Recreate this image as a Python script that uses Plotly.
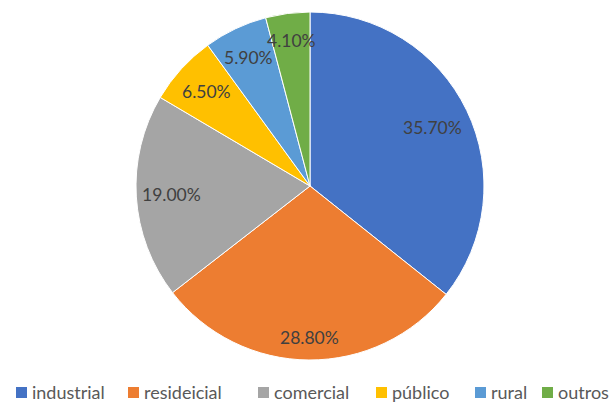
import math
import plotly.graph_objects as go

categories = ["industrial", "resideicial", "comercial", "público", "rural", "outros"]
values = [35.7, 28.8, 19.0, 6.5, 5.9, 4.1]
colors = ["#4472C4", "#ED7D31", "#A5A5A5", "#FFC000", "#5B9BD5", "#70AD47"]

# layout / style settings
W, H = 615, 405
CX, CY, R = 310, 186, 174            # pie centre / radius in px
label_radius = [0.78, 0.868, 0.797, 0.807, 0.818, 0.845]   # label distance (fraction of radius)
legend_text_x = [32, 144, 274, 392, 491, 558]               # legend entry text left (px)
LEGEND_Y = 392
FONT = "Lato, 'Open Sans', sans-serif"

fig = go.Figure(go.Pie(
    labels=categories,
    values=values,
    sort=False,
    direction="clockwise",
    rotation=0,
    marker=dict(colors=colors, line=dict(color="white", width=1)),
    textinfo="none",
    domain=dict(x=[(CX - R) / W, (CX + R) / W], y=[1 - (CY + R) / H, 1 - (CY - R) / H]),
    hoverinfo="label+percent",
    showlegend=False,
))

# data labels placed at each slice's mid-angle
total = sum(values)
cum = 0.0
annotations = []
for v, f in zip(values, label_radius):
    mid = (cum + v / 2) / total * 2 * math.pi
    cum += v
    px = CX + R * f * math.sin(mid)
    py = CY - R * f * math.cos(mid)
    annotations.append(dict(
        x=px / W, y=1 - py / H, xref="paper", yref="paper",
        text=f"{v:.2f}%", showarrow=False, xanchor="center", yanchor="middle",
        font=dict(family=FONT, size=17.5, color="#404040"),
    ))

# legend drawn as text + square markers
shapes = []
for cat, col, tx in zip(categories, colors, legend_text_x):
    annotations.append(dict(
        x=tx / W, y=1 - LEGEND_Y / H, xref="paper", yref="paper",
        text=cat, showarrow=False, xanchor="left", yanchor="middle",
        xshift=-2,
        font=dict(family=FONT, size=18, color="#595959"),
    ))
    shapes.append(dict(
        type="rect", xref="paper", yref="paper",
        x0=(tx - 16) / W, x1=(tx - 5) / W,
        y0=1 - (LEGEND_Y + 6) / H, y1=1 - (LEGEND_Y - 5) / H,
        fillcolor=col, line=dict(width=0),
    ))

fig.update_layout(
    width=W, height=H,
    margin=dict(l=0, r=0, t=0, b=0),
    paper_bgcolor="white",
    plot_bgcolor="white",
    showlegend=False,
    annotations=annotations,
    shapes=shapes,
)

fig.write_html("out.html")
